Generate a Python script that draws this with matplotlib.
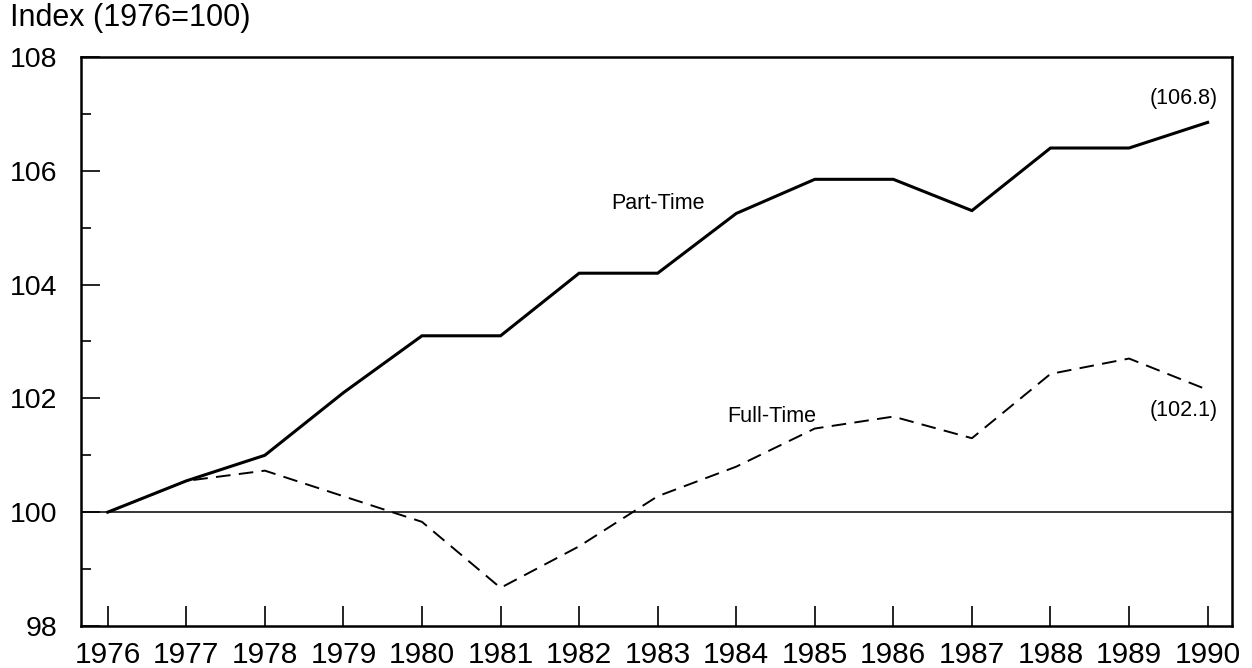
import matplotlib
matplotlib.use("Agg")
import matplotlib.pyplot as plt
from matplotlib.ticker import MultipleLocator

plt.rcParams['font.family'] = ['Liberation Sans', 'DejaVu Sans']
plt.rcParams['lines.scale_dashes'] = False

# Index values (1976 = 100)
years = list(range(1976, 1991))
part_time = [100.0, 100.55, 101.0, 102.1, 103.1, 103.1, 104.2, 104.2,
             105.25, 105.85, 105.85, 105.3, 106.4, 106.4, 106.85]
full_time = [100.0, 100.55, 100.73, 100.28, 99.83, 98.67, 99.4, 100.28,
             100.8, 101.47, 101.68, 101.3, 102.43, 102.7, 102.15]
end_labels = ["(106.8)", "(102.1)"]
y_label = "Index (1976=100)"

fig = plt.figure(figsize=(12.52, 6.68), dpi=100)
ax = fig.add_axes([0.0647, 0.0629, 0.9193, 0.8518])

ax.axhline(100, color='black', lw=1.1, zorder=1)
ax.plot(years, part_time, color='black', lw=2.2, solid_joinstyle='miter', zorder=3)
ax.plot(years, full_time, color='black', lw=1.4, dashes=(10.5, 6), zorder=3)

ax.set_xlim(1975.66, 1990.31)
ax.set_ylim(98, 108)
ax.set_xticks(years)
ax.yaxis.set_major_locator(MultipleLocator(2))
ax.yaxis.set_minor_locator(MultipleLocator(1))

for s in ax.spines.values():
    s.set_linewidth(1.8)

ax.tick_params(axis='x', direction='in', length=14.4, width=1.2, pad=11,
               labelsize=21.5, top=False)
ax.tick_params(axis='y', which='major', direction='in', length=13.7, width=1.2,
               pad=17, labelsize=20.5, right=False)
ax.tick_params(axis='y', which='minor', direction='in', length=7.2, width=1.2,
               right=False)

ax.text(1983.0, 105.43, "Part-Time", fontsize=15.5, ha='center', va='center')
ax.text(1984.45, 101.68, "Full-Time", fontsize=15.5, ha='center', va='center')
ax.text(1989.7, part_time[-1] + 0.42, end_labels[0], fontsize=15.5,
        ha='center', va='center')
ax.text(1989.7, full_time[-1] - 0.36, end_labels[1], fontsize=15.5,
        ha='center', va='center')

fig.text(10 / 1252, 1 - 18 / 668, y_label, fontsize=22, ha='left', va='center')

fig.savefig("out.png", dpi=100)
